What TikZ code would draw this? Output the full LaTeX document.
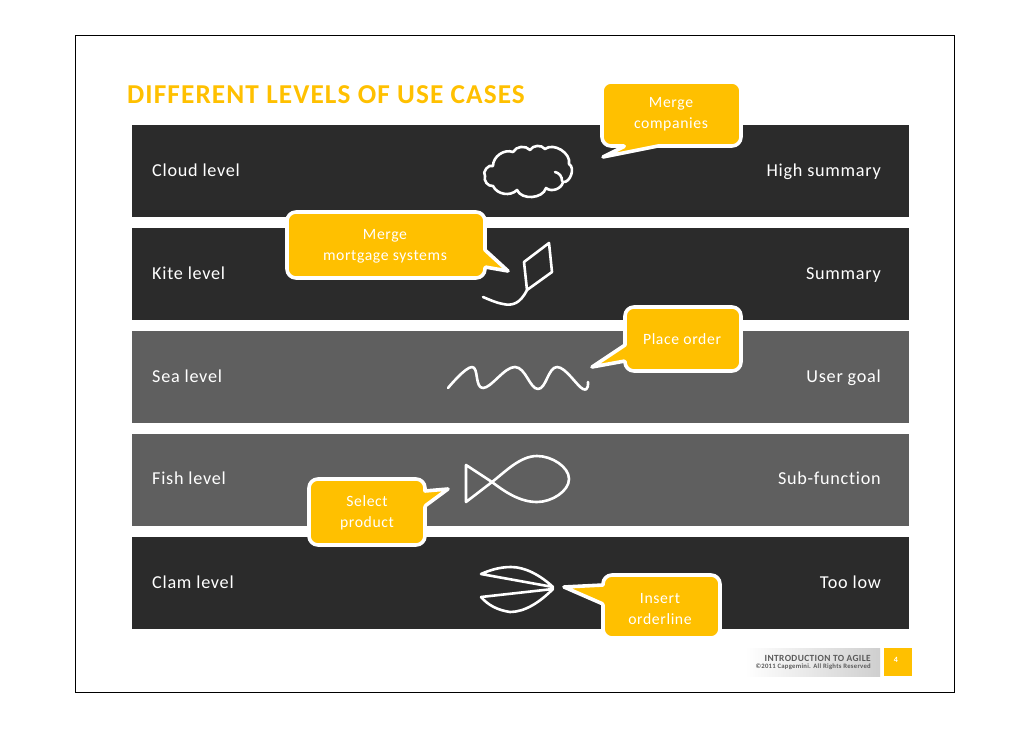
\documentclass[tikz,border=0pt]{standalone}
\usepackage{fontspec}
\setmainfont{Carlito}[LetterSpace=4,Ligatures=NoCommon]
\usepackage{xcolor}
\usetikzlibrary{calc}
\definecolor{capgold}{HTML}{FFC000}
\definecolor{banddark}{HTML}{2B2B2B}
\definecolor{bandgray}{HTML}{5F5F5F}
\definecolor{footgray}{HTML}{CFCFCF}
\definecolor{foottext}{HTML}{5A5A5A}

\begin{document}
\begin{tikzpicture}[
    x=1pt, y=-1pt,
    band/.style={draw=none},
    bandlabel/.style={text=white, font=\fontsize{18.2}{20}\selectfont, inner sep=0pt},
    bubble/.style={fill=capgold, draw=white, line width=3.6pt, line join=round},
    bubbletext/.style={text=white, font=\fontsize{15.7}{21}\selectfont, align=center, inner sep=0pt},
    sketch/.style={draw=white, line width=2.6pt, line join=round, line cap=round}
  ]
  \useasboundingbox (0,0) rectangle (1030,728);
  \fill[white] (0,0) rectangle (1030,728);
  \draw[black, line width=1pt] (75,35) rectangle (954,692);

  % Title
  \node[anchor=west, inner sep=0pt, text=capgold, font=\fontsize{27.3}{30}\selectfont\bfseries] (title) at (127,95) {DIFFERENT LEVELS OF USE CASES};

  % Bands
  \fill[band, banddark] (132,125) rectangle (909,217);
  \fill[band, banddark] (132,228) rectangle (909,320);
  \fill[band, bandgray] (132,331) rectangle (909,423);
  \fill[band, bandgray] (132,434) rectangle (909,526);
  \fill[band, banddark] (132,537) rectangle (909,629);

  % Left labels
  \node[bandlabel, anchor=base west] (cloud) at (152,176) {Cloud level};
  \node[bandlabel, anchor=base west] (kite)  at (152,279) {Kite level};
  \node[bandlabel, anchor=base west] (sea)   at (152,382) {Sea level};
  \node[bandlabel, anchor=base west] (fish)  at (152,484) {Fish level};
  \node[bandlabel, anchor=base west] (clam)  at (152,588) {Clam level};

  % Right labels
  \node[bandlabel, anchor=base east] (high) at (881,176) {High summary};
  \node[bandlabel, anchor=base east] (summ) at (881,279) {Summary};
  \node[bandlabel, anchor=base east] (goal) at (881,382) {User goal};
  \node[bandlabel, anchor=base east] (func) at (881,484) {Sub-function};
  \node[bandlabel, anchor=base east] (low)  at (881,588) {Too low};

  % Cloud
  \draw[sketch] (493,166) to[bend left=55] (513,152) to[bend left=55] (530,150)
    to[bend left=55] (545,149) to[bend left=70] (569,164) to[bend left=80] (563,182)
    to[bend left=60] (546,188) to[bend left=70] (517,190) to[bend left=55] (493,186)
    to[bend left=60] (485,176) to[bend left=80] (493,166);
  \draw[sketch] (555,172) to[bend left=40] (562,181);

  % Kite
  \draw[sketch] (524,262) -- (549,243) -- (552,272) -- (527,290) -- cycle;
  \draw[sketch] (527,290) .. controls (520,304) and (512,306) .. (503,304) .. controls (497,303) and (490,300) .. (483,297);

  % Waves
  \draw[sketch] plot[smooth, tension=0.7] coordinates {(448,388) (472,367) (483,388) (515,367) (538,389) (557,367) (583,389) (588,382)};

  % Fish
  \draw[sketch] (466,465) -- (492,482) .. controls (505,492) and (520,502) .. (537,502)
    .. controls (552,502) and (569,491) .. (569,479)
    .. controls (569,467) and (552,456) .. (537,456)
    .. controls (520,456) and (505,472) .. (492,482) -- (466,502) -- cycle;

  % Clam
  \draw[sketch] (481,574) -- (553,587) .. controls (540,575) and (525,567) .. (511,567) .. controls (500,567) and (490,570) .. (481,574);
  \draw[sketch] (481,597) -- (553,589) .. controls (540,602) and (525,612) .. (510,612) .. controls (497,610) and (488,605) .. (481,597);

  % Bubbles
  \draw[bubble, rounded corners=9pt] (658,146) -- (741,146) -- (741,82) -- (602,82) -- (602,146) [rounded corners=1pt] -- (625,146) [sharp corners] -- (603,157) -- (658,146) -- cycle;
  \node[bubbletext] (merge) at (671,114) {Merge\\companies};

  \draw[bubble, rounded corners=9pt] (485,250) -- (485,212) -- (287,212) -- (287,278) -- (485,278) [rounded corners=1pt] -- (485,267) [sharp corners] -- (508,271) -- (485,250) -- cycle;
  \node[bubbletext] (mortgage) at (385,246) {Merge\\mortgage systems};

  \draw[bubble, rounded corners=9pt] (625,345) -- (625,307) -- (741,307) -- (741,371) -- (625,371) [rounded corners=1pt] -- (625,361) [sharp corners] -- (592,367) -- (625,345) -- cycle;
  \node[bubbletext] (order) at (682,339) {Place order};

  \draw[bubble, rounded corners=9pt] (425,491) -- (425,479) -- (309,479) -- (309,545) -- (425,545) [rounded corners=1pt] -- (425,506) [sharp corners] -- (448,489) -- (425,491) -- cycle;
  \node[bubbletext] (product) at (367,513) {Select\\product};

  \draw[bubble, rounded corners=9pt] (603,585) -- (603,575) -- (720,575) -- (720,638) -- (603,638) [rounded corners=1pt] -- (603,604) [sharp corners] -- (564,587) -- (603,585) -- cycle;
  \node[bubbletext] (insert) at (660,609) {Insert\\orderline};

  % Footer
  \shade[left color=white, right color=footgray] (745,648) rectangle (880,676);
  \fill[capgold] (884,648) rectangle (912,676);
  \node[anchor=east, inner sep=0pt, text=foottext, font=\fontsize{9.4}{10}\selectfont\bfseries] (course) at (871,658) {INTRODUCTION TO AGILE};
  \node[anchor=east, inner sep=0pt, text=foottext, font=\fontsize{6.7}{9}\selectfont\bfseries] (rights) at (871,667) {©2011 Capgemini. All Rights Reserved};
  \node[inner sep=0pt, text=white, font=\fontsize{8}{10}\selectfont\bfseries] (page) at (896,660) {4};
\end{tikzpicture}
\end{document}
